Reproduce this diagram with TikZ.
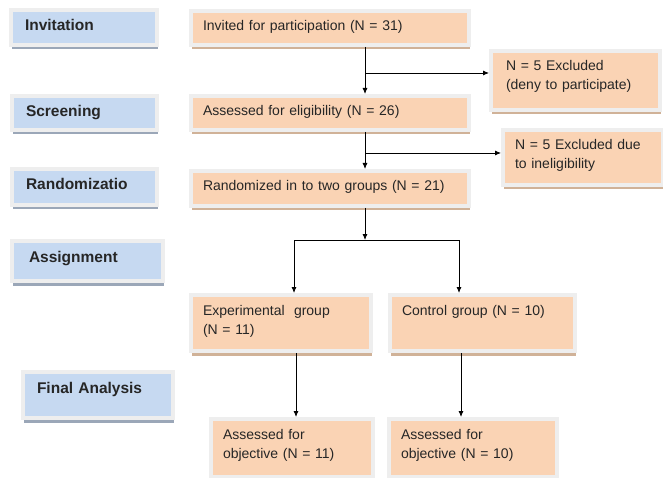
\documentclass[tikz,border=0pt]{standalone}
\usepackage{fontspec}
\setmainfont{Liberation Sans}
\usepackage{xcolor}
\usetikzlibrary{shadows, arrows.meta}

\definecolor{stageblue}{RGB}{198,217,241}
\definecolor{boxorange}{RGB}{250,211,180}
\definecolor{framegrey}{RGB}{238,238,238}
\definecolor{stageshadow}{RGB}{155,167,184}
\definecolor{boxshadow}{RGB}{208,178,152}

\begin{document}
\begin{tikzpicture}[x=1pt, y=-1pt, >={Latex[length=6pt,width=5pt]},
    panel/.style={rectangle, draw=framegrey, line width=4pt, outer sep=2pt, anchor=north west, align=left, text=black!85},
    stage/.style={panel, fill=stageblue, inner xsep=14pt, inner ysep=10pt, text height=11pt,
        font=\fontsize{15.5}{18}\selectfont\bfseries,
        drop shadow={shadow xshift=0.5pt, shadow yshift=-4.5pt, fill=stageshadow, opacity=1}},
    flowbox/.style={panel, fill=boxorange, inner xsep=12pt, inner ysep=10pt, text height=10pt,
        font=\fontsize{14}{19}\selectfont,
        drop shadow={shadow xshift=0.5pt, shadow yshift=-4.5pt, fill=boxshadow, opacity=1}},
    link/.style={->, line width=0.8pt}]

    \useasboundingbox (0,0) rectangle (663,478);

    % 1. Cot trai: cac giai doan
    \node[stage, text width=118pt, text depth=4pt]  (invitation) at (9,8)    {Invitation};
    \node[stage, text width=117pt, text depth=3pt]  (screening)  at (10,94)  {Screening};
    \node[stage, text width=117pt, text depth=5pt]  (randstage)  at (10,167) {Randomizatio};
    \node[stage, text width=123pt, text depth=9pt]  (assignment) at (10,239) {\hspace{3pt}Assignment};
    \node[stage, text width=122pt, text depth=15pt] (finalstage) at (21,370) {Final Analysis};

    % 2. Cac hop chinh
    \node[flowbox, text width=254pt, text depth=4pt] (invited)    at (189,9)   {Invited for participation (N = 31)};
    \node[flowbox, text width=254pt, text depth=4pt] (assessed)   at (189,94)  {Assessed for eligibility (N = 26)};
    \node[flowbox, text width=254pt, text depth=5pt] (randomized) at (189,169) {Randomized in to two groups (N = 21)};

    % 3. Hop loai tru ben phai
    \node[flowbox, text width=145pt, text depth=29pt] (excl1) at (489,49)  {\hspace{3pt}N = 5 Excluded\\\hspace{3pt}(deny to participate)};
    \node[flowbox, text width=136pt, text depth=25pt] (excl2) at (501,128) {N = 5 Excluded due\\to ineligibility};

    % 4. Hai nhom
    \node[flowbox, text width=156pt, text depth=26pt] (expgroup) at (189,293) {Experimental\ \ group\\(N = 11)};
    \node[flowbox, text width=161pt, text depth=26pt] (ctlgroup) at (388,293) {Control group (N = 10)};
    \node[flowbox, text width=138pt, text depth=28pt] (expfinal) at (209,417) {Assessed for\\objective (N = 11)};
    \node[flowbox, text width=144pt, text depth=28pt] (ctlfinal) at (387,417) {Assessed for\\objective (N = 10)};

    % 5. Mui ten noi cac hop
    \coordinate (spine) at (365,0);
    \draw[link] (invited.south -| spine) -- (assessed.north -| spine);
    \coordinate (out1) at (365,73);
    \draw[link] (out1) -- (out1 -| excl1.west);

    \draw[link] (assessed.south -| spine) -- (randomized.north -| spine);
    \coordinate (out2) at (365,153);
    \draw[link] (out2) -- (out2 -| excl2.west);

    % Re nhanh sang hai nhom
    \coordinate (split) at (365,240);
    \coordinate (lsplit) at (294,240);
    \coordinate (rsplit) at (459,240);
    \draw[link] (randomized.south -| spine) -- (split);
    \draw[line width=0.8pt] (lsplit) -- (rsplit);
    \draw[link] (lsplit) -- (lsplit |- expgroup.north);
    \draw[link] (rsplit) -- (rsplit |- ctlgroup.north);

    \coordinate (ldrop) at (296,0);
    \coordinate (rdrop) at (461,0);
    \draw[link] (expgroup.south -| ldrop) -- (expfinal.north -| ldrop);
    \draw[link] (ctlgroup.south -| rdrop) -- (ctlfinal.north -| rdrop);

\end{tikzpicture}
\end{document}
